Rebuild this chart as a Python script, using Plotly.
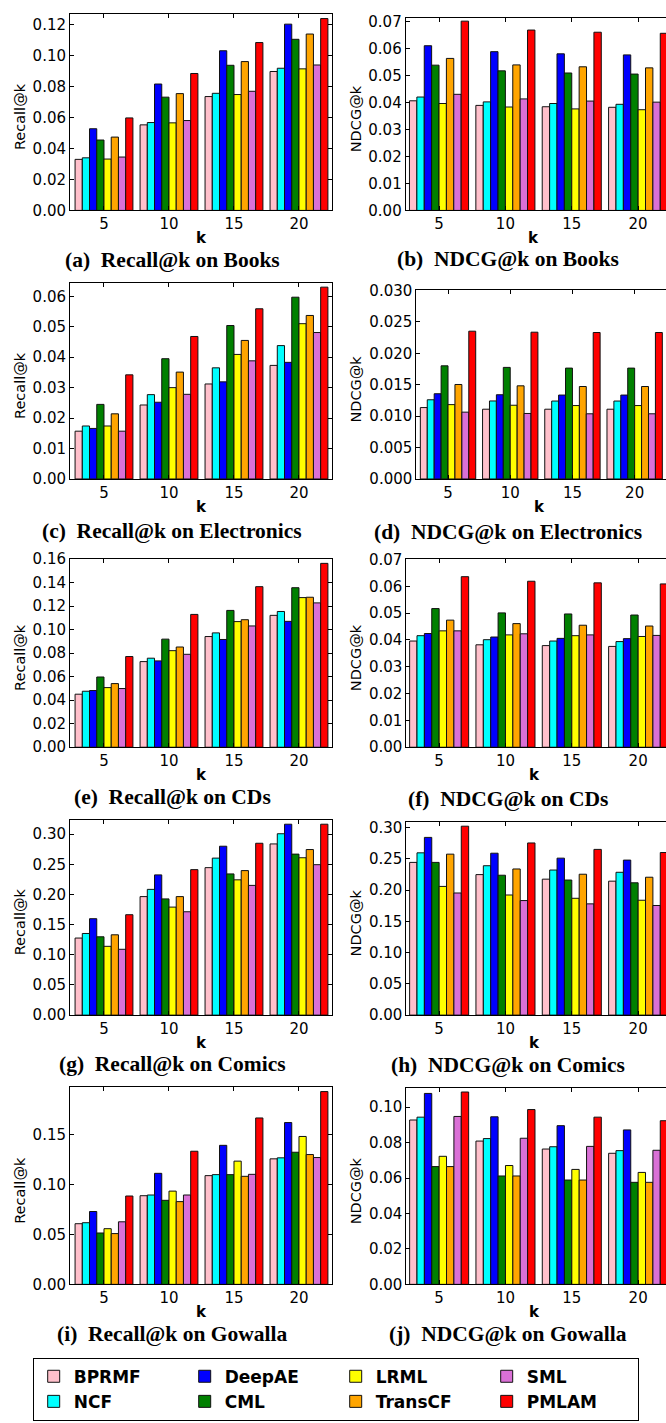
import plotly.graph_objects as go

# ---------------- data ----------------
K_LABELS = ["5", "10", "15", "20"]
METHODS = ["BPRMF", "NCF", "DeepAE", "CML", "LRML", "TransCF", "SML", "PMLAM"]
COLORS = ["pink", "cyan", "blue", "green", "yellow", "orange", "orchid", "red"]
LEGEND_RANK = [1, 5, 2, 6, 3, 7, 4, 8]

# rows follow METHODS order, columns follow K_LABELS
BOOKS_RECALL = [
    [0.0330, 0.0553, 0.0736, 0.0898],
    [0.0340, 0.0568, 0.0757, 0.0919],
    [0.0528, 0.0817, 0.1032, 0.1204],
    [0.0455, 0.0732, 0.0938, 0.1106],
    [0.0332, 0.0566, 0.0749, 0.0915],
    [0.0474, 0.0755, 0.0962, 0.1140],
    [0.0345, 0.0581, 0.0770, 0.0940],
    [0.0598, 0.0885, 0.1085, 0.1240],
]
BOOKS_NDCG = [
    [0.0406, 0.0389, 0.0384, 0.0382],
    [0.0420, 0.0402, 0.0396, 0.0393],
    [0.0610, 0.0588, 0.0580, 0.0576],
    [0.0538, 0.0517, 0.0509, 0.0505],
    [0.0396, 0.0383, 0.0376, 0.0373],
    [0.0563, 0.0539, 0.0532, 0.0528],
    [0.0430, 0.0413, 0.0405, 0.0401],
    [0.0701, 0.0668, 0.0660, 0.0656],
]
ELEC_RECALL = [
    [0.0157, 0.0243, 0.0312, 0.0373],
    [0.0174, 0.0277, 0.0365, 0.0438],
    [0.0166, 0.0252, 0.0319, 0.0383],
    [0.0245, 0.0395, 0.0504, 0.0597],
    [0.0174, 0.0300, 0.0409, 0.0510],
    [0.0214, 0.0351, 0.0455, 0.0537],
    [0.0157, 0.0278, 0.0388, 0.0481],
    [0.0342, 0.0468, 0.0559, 0.0630],
]
ELEC_NDCG = [
    [0.01136, 0.01110, 0.01110, 0.01110],
    [0.01260, 0.01241, 0.01240, 0.01240],
    [0.01356, 0.01340, 0.01335, 0.01335],
    [0.01800, 0.01775, 0.01764, 0.01764],
    [0.01183, 0.01173, 0.01168, 0.01168],
    [0.01503, 0.01482, 0.01471, 0.01471],
    [0.01063, 0.01042, 0.01037, 0.01037],
    [0.02351, 0.02335, 0.02330, 0.02330],
]
CDS_RECALL = [
    [0.0451, 0.0728, 0.0941, 0.1121],
    [0.0476, 0.0757, 0.0972, 0.1154],
    [0.0482, 0.0734, 0.0916, 0.1070],
    [0.0597, 0.0919, 0.1163, 0.1356],
    [0.0507, 0.0821, 0.1068, 0.1272],
    [0.0541, 0.0852, 0.1084, 0.1275],
    [0.0499, 0.0790, 0.1031, 0.1227],
    [0.0771, 0.1129, 0.1365, 0.1563],
]
CDS_NDCG = [
    [0.0396, 0.0382, 0.0379, 0.0376],
    [0.0416, 0.0401, 0.0396, 0.0394],
    [0.0424, 0.0411, 0.0406, 0.0405],
    [0.0517, 0.0501, 0.0497, 0.0493],
    [0.0434, 0.0419, 0.0416, 0.0413],
    [0.0474, 0.0461, 0.0455, 0.0452],
    [0.0434, 0.0423, 0.0419, 0.0417],
    [0.0636, 0.0619, 0.0613, 0.0609],
]
COMICS_RECALL = [
    [0.1277, 0.1964, 0.2444, 0.2837],
    [0.1353, 0.2084, 0.2602, 0.3006],
    [0.1598, 0.2324, 0.2799, 0.3164],
    [0.1298, 0.1926, 0.2340, 0.2668],
    [0.1140, 0.1790, 0.2242, 0.2608],
    [0.1331, 0.1964, 0.2395, 0.2744],
    [0.1091, 0.1713, 0.2150, 0.2493],
    [0.1664, 0.2411, 0.2848, 0.3164],
]
COMICS_NDCG = [
    [0.2442, 0.2247, 0.2174, 0.2142],
    [0.2595, 0.2389, 0.2320, 0.2284],
    [0.2842, 0.2589, 0.2510, 0.2479],
    [0.2442, 0.2237, 0.2160, 0.2116],
    [0.2058, 0.1921, 0.1868, 0.1837],
    [0.2574, 0.2337, 0.2253, 0.2205],
    [0.1953, 0.1832, 0.1779, 0.1753],
    [0.3021, 0.2753, 0.2650, 0.2600],
]
GOWALLA_RECALL = [
    [0.0607, 0.0887, 0.1088, 0.1256],
    [0.0617, 0.0894, 0.1098, 0.1266],
    [0.0729, 0.1111, 0.1391, 0.1619],
    [0.0514, 0.0841, 0.1098, 0.1322],
    [0.0557, 0.0933, 0.1233, 0.1480],
    [0.0508, 0.0828, 0.1081, 0.1299],
    [0.0626, 0.0894, 0.1101, 0.1269],
    [0.0884, 0.1332, 0.1665, 0.1929],
]
GOWALLA_NDCG = [
    [0.0928, 0.0809, 0.0764, 0.0740],
    [0.0944, 0.0823, 0.0777, 0.0755],
    [0.1078, 0.0946, 0.0896, 0.0872],
    [0.0665, 0.0612, 0.0589, 0.0576],
    [0.0723, 0.0671, 0.0649, 0.0632],
    [0.0665, 0.0612, 0.0589, 0.0576],
    [0.0948, 0.0825, 0.0779, 0.0757],
    [0.1086, 0.0987, 0.0944, 0.0924],
]

CAPTIONS = [
    "(a)\u2002Recall@k on Books", "(b)\u2002NDCG@k on Books",
    "(c)\u2002Recall@k on Electronics", "(d)\u2002NDCG@k on Electronics",
    "(e)\u2002Recall@k on CDs", "(f)\u2002NDCG@k on CDs",
    "(g)\u2002Recall@k on Comics", "(h)\u2002NDCG@k on Comics",
    "(i)\u2002Recall@k on Gowalla", "(j)\u2002NDCG@k on Gowalla",
]
Y_TITLES = ["Recall@k", "NDCG@k"] * 5
PANEL_DATA = [BOOKS_RECALL, BOOKS_NDCG, ELEC_RECALL, ELEC_NDCG, CDS_RECALL,
              CDS_NDCG, COMICS_RECALL, COMICS_NDCG, GOWALLA_RECALL, GOWALLA_NDCG]

# ---------------- layout geometry (pixels) ----------------
W, H = 666, 1423
# left, top, bottom, right, xmin, xmax, ymax, dtick, fmt
GEOM = [
    (70, 5, 204, 332, -0.523, 3.508, 0.127, 0.02, ".2f"),
    (405.7, 9.3, 204, 666, -0.502, 3.42, 0.0712, 0.01, ".2f"),
    (70, 277.7, 476, 332, -0.523, 3.508, 0.0643, 0.01, ".2f"),
    (416.3, 285, 476, 666, -0.51, 3.504, 0.030, 0.005, ".3f"),
    (70, 556.7, 747.7, 332, -0.523, 3.508, 0.1603, 0.02, ".2f"),
    (406.3, 557.3, 747.7, 666, -0.495, 3.42, 0.0701, 0.01, ".2f"),
    (70, 821, 1019, 332, -0.523, 3.508, 0.324, 0.05, ".2f"),
    (406.3, 823.3, 1019, 666, -0.495, 3.42, 0.309, 0.05, ".2f"),
    (70, 1092.3, 1291.7, 332, -0.523, 3.508, 0.197, 0.05, ".2f"),
    (406.3, 1093.3, 1291.7, 666, -0.495, 3.42, 0.1106, 0.02, ".2f"),
]
CAP_Y = [254, 253, 529, 530, 798, 800, 1069, 1070, 1342, 1342]

def px(x):
    return x / W

def py(y):
    return 1 - y / H

TICK_FONT = dict(family="DejaVu Sans", size=15, color="black")

fig = go.Figure()
annotations = []
layout = dict(
    width=W, height=H,
    margin=dict(l=0, r=0, t=0, b=0),
    paper_bgcolor="white", plot_bgcolor="white",
    barmode="group", bargap=0.11, bargroupgap=0,
    showlegend=True,
)

for p, data in enumerate(PANEL_DATA):
    left, top, bottom, right, xmin, xmax, ymax, dtick, fmt = GEOM[p]
    is_left = (p % 2 == 0)
    ax = "" if p == 0 else str(p + 1)
    for m, name in enumerate(METHODS):
        fig.add_trace(go.Bar(
            x=K_LABELS, y=data[m], name=name,
            marker=dict(color=COLORS[m], line=dict(color="#111111", width=1)),
            xaxis="x" + ax, yaxis="y" + ax,
            legendgroup=name, showlegend=(p == 0),
            legendrank=LEGEND_RANK[m],
        ))
    layout["xaxis" + ax] = dict(
        domain=[px(left), px(right)], anchor="y" + ax,
        type="category", categoryorder="array", categoryarray=K_LABELS,
        range=[xmin, xmax], showline=True, linecolor="black", linewidth=1,
        mirror="ticks", ticks="inside", ticklen=4, tickcolor="black",
        tickfont=TICK_FONT, showgrid=False, zeroline=False, fixedrange=True,
    )
    layout["yaxis" + ax] = dict(
        domain=[py(bottom), py(top)], anchor="x" + ax,
        range=[0, ymax], dtick=dtick, tick0=0, tickformat=fmt,
        showline=True, linecolor="black", linewidth=1,
        mirror="ticks" if is_left else False,
        ticks="inside", ticklen=4, tickcolor="black",
        tickfont=TICK_FONT, showgrid=False, zeroline=False, fixedrange=True,
    )
    # x-axis title "k"
    annotations.append(dict(
        text="<b>k</b>", xref="paper", yref="paper",
        x=px((left + right) / 2 if is_left else (left + 662) / 2),
        y=py(bottom + 28), xanchor="center", yanchor="middle", showarrow=False,
        font=dict(family="DejaVu Sans", size=15, color="black"),
    ))
    # y-axis title
    annotations.append(dict(
        text=Y_TITLES[p], xref="paper", yref="paper",
        x=px(20 if is_left else 356), y=py((top + bottom) / 2 + 5),
        xanchor="center", yanchor="middle", textangle=-90, showarrow=False,
        font=dict(family="DejaVu Sans", size=14.5, color="black"),
    ))
    # caption
    annotations.append(dict(
        text="<b>" + CAPTIONS[p] + "</b>", xref="paper", yref="paper",
        x=px(172 if is_left else 508), y=py(CAP_Y[p]),
        xanchor="center", yanchor="middle", showarrow=False,
        font=dict(family="Liberation Serif", size=21.5, color="black"),
    ))

layout["annotations"] = annotations
layout["legend"] = dict(
    orientation="h", x=px(32.7), xanchor="left", y=py(1366), yanchor="top",
    bordercolor="black", borderwidth=1, bgcolor="white",
    font=dict(family="DejaVu Sans", size=17, color="black", weight="bold"),
    entrywidth=106, traceorder="normal",
)
fig.update_layout(**layout)
fig.write_html(
    "out.html",
    config={"displayModeBar": False},
    post_script="document.body.style.margin='0';"
                "document.documentElement.style.margin='0';"
                "document.body.style.overflow='hidden';",
)
